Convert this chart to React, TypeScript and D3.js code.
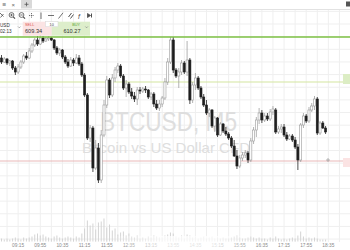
import React from "react";
import * as d3 from "d3";

// ---- data ----
const START_TIME = "08:45"; // first visible 5‑minute candle
const OPEN = [
  608.2, 607.8, 608.1, 607.7, 607.9, 607.2, 606.8, 607.3, 607.8, 608.4,
  608.2, 608.9, 609.5, 610.0, 609.6, 610.2, 609.9, 610.1, 610.2, 610.0,
  609.2, 608.7, 609.0, 608.3, 607.8, 607.4, 608.0, 607.7, 608.2, 607.6,
  606.5, 604.5, 600.2, 601.2, 597.2, 599.2, 596.0, 600.5, 603.5, 606.0,
  604.5, 606.2, 607.0, 607.4, 606.4, 605.2, 605.6, 604.8, 604.4, 604.1,
  605.0, 604.9, 605.1, 605.0, 604.3, 604.6, 603.6, 603.2, 603.6, 604.2,
  605.8, 607.8, 610.0, 607.0, 606.4, 606.8, 607.7, 606.8, 608.0, 604.0,
  605.5, 606.2, 605.2, 604.3, 603.5, 602.7, 603.0, 601.4, 602.2, 600.5,
  601.6, 600.9, 600.6, 600.2, 599.4, 598.4, 597.4, 598.2, 598.5, 598.7,
  598.0, 599.9, 601.0, 602.0, 602.7, 602.0, 602.4, 602.1, 602.8, 603.0,
  600.8, 601.1, 601.3, 600.5, 600.1, 600.4, 600.0, 599.3, 598.0, 601.5,
  602.4, 601.9, 603.0, 603.4, 604.1, 600.7, 601.7, 601.2,
];
const HIGH = [
  608.5, 608.3, 608.2, 608.0, 608.0, 607.4, 607.6, 608.0, 608.6, 608.8,
  609.2, 609.7, 610.2, 610.4, 610.5, 610.4, 610.3, 610.4, 610.3, 610.1,
  609.4, 609.2, 609.1, 608.5, 608.1, 608.3, 608.2, 608.6, 608.5, 607.8,
  606.7, 604.7, 601.5, 601.4, 600.0, 599.7, 601.0, 604.0, 606.4, 606.2,
  606.6, 607.3, 607.7, 607.6, 606.6, 606.0, 605.8, 605.2, 604.8, 605.3,
  605.3, 605.3, 605.4, 605.1, 604.8, 604.8, 604.0, 604.0, 604.4, 606.2,
  608.2, 610.3, 610.3, 607.2, 607.2, 608.0, 607.9, 609.9, 608.2, 605.8,
  606.7, 606.4, 605.4, 604.6, 604.0, 603.2, 603.1, 602.4, 602.3, 601.8,
  601.7, 601.3, 600.8, 600.4, 600.0, 599.0, 598.5, 598.8, 599.0, 598.9,
  600.2, 601.3, 602.3, 603.2, 603.0, 602.7, 602.7, 603.1, 603.4, 603.2,
  601.4, 601.6, 601.6, 600.8, 600.6, 600.6, 600.3, 599.6, 601.7, 602.7,
  602.6, 603.3, 603.7, 604.4, 604.3, 601.9, 601.9, 601.4,
];
const LOW = [
  607.6, 607.7, 607.5, 607.4, 607.0, 606.5, 606.6, 607.1, 607.6, 608.0,
  608.1, 608.7, 609.3, 609.4, 609.5, 609.7, 609.8, 609.9, 609.9, 609.0,
  608.5, 608.4, 608.1, 607.6, 607.2, 607.3, 607.4, 607.6, 607.4, 606.3,
  604.3, 600.0, 599.8, 596.8, 597.0, 595.7, 595.7, 600.3, 603.2, 604.2,
  604.3, 605.8, 606.7, 606.2, 605.0, 604.3, 604.6, 604.1, 603.8, 603.5,
  604.6, 604.7, 604.7, 604.1, 604.0, 603.3, 603.0, 602.9, 603.3, 604.0,
  605.5, 607.6, 606.7, 606.2, 605.2, 606.5, 606.6, 606.4, 603.6, 603.7,
  605.0, 605.0, 604.1, 603.3, 602.5, 602.3, 601.2, 600.8, 600.3, 600.4,
  600.7, 600.4, 600.0, 599.2, 598.3, 597.1, 597.2, 597.9, 598.2, 597.7,
  597.8, 599.6, 600.3, 601.6, 601.7, 601.8, 601.9, 601.9, 602.5, 600.6,
  600.6, 600.7, 600.3, 599.9, 600.0, 599.8, 599.1, 597.0, 597.8, 601.2,
  601.7, 601.7, 602.8, 603.0, 600.5, 600.5, 601.1, 600.6,
];
const CLOSE = [
  607.8, 608.1, 607.7, 607.9, 607.2, 606.8, 607.3, 607.8, 608.4, 608.2,
  608.9, 609.5, 610.0, 609.6, 610.2, 609.9, 610.1, 610.2, 610.0, 609.2,
  608.7, 609.0, 608.3, 607.8, 607.4, 608.0, 607.7, 608.2, 607.6, 606.5,
  604.5, 600.2, 601.2, 597.2, 599.2, 596.0, 600.5, 603.5, 606.0, 604.5,
  606.2, 607.0, 607.4, 606.4, 605.2, 605.6, 604.8, 604.4, 604.1, 605.0,
  604.9, 605.1, 605.0, 604.3, 604.6, 603.6, 603.2, 603.6, 604.2, 605.8,
  607.8, 610.0, 607.0, 606.4, 606.8, 607.7, 606.8, 608.0, 604.0, 605.5,
  606.2, 605.2, 604.3, 603.5, 602.7, 603.0, 601.4, 602.2, 600.5, 601.6,
  600.9, 600.6, 600.2, 599.4, 598.4, 597.4, 598.2, 598.5, 598.7, 598.0,
  599.9, 601.0, 602.0, 602.7, 602.0, 602.4, 602.1, 602.8, 603.1, 600.8,
  601.1, 601.3, 600.5, 600.1, 600.4, 600.0, 599.3, 598.0, 601.5, 602.4,
  601.9, 603.0, 603.4, 604.1, 600.7, 601.7, 601.2, 600.8,
];
const VOLUME = [
  3, 2, 3, 2, 3, 4, 3, 2, 4, 3,
  4, 5, 7, 8, 6, 7, 5, 4, 3, 5,
  6, 4, 3, 4, 5, 4, 3, 5, 4, 8,
  13, 21, 16, 18, 12, 19, 20, 23, 14, 17,
  11, 13, 7, 9, 10, 6, 8, 5, 4, 6,
  3, 4, 3, 5, 4, 6, 5, 4, 4, 6,
  7, 9, 8, 5, 4, 6, 3, 7, 6, 4,
  5, 3, 4, 5, 3, 4, 5, 3, 4, 3,
  4, 3, 3, 4, 5, 6, 4, 3, 3, 4,
  5, 4, 3, 4, 3, 3, 2, 4, 3, 5,
  3, 2, 3, 2, 3, 4, 3, 6, 10, 5,
  3, 4, 3, 4, 3, 2, 2, 2,
];
const TIME_LABELS = [
  "09:15", "09:55", "10:35", "11:15", "11:55", "12:35", "13:15", "13:55",
  "14:35", "15:15", "15:55", "16:35", "17:15", "17:55", "18:35",
];
const LEVEL_GREEN = 610.3;
const LEVEL_YELLOW = 605.8;
const LEVEL_PINK = 597.9;
const SYMBOL_TITLE = "BTCUSD, M5";
const SYMBOL_DESC = "Bitcoin vs US Dollar CFD";
const SELL_PRICE = "609.34";
const BUY_PRICE = "610.27";
const LOT = "10";
const SYMBOL_CUT = "USD";
const CLOCK = "02:13";

const W = 350;
const H = 250;
const FONT = "'Liberation Sans', Arial, sans-serif";

export default function App() {
  const parse = d3.timeParse("%H:%M");
  const t0 = parse(START_TIME) as Date;
  const n = Math.min(OPEN.length, HIGH.length, LOW.length, CLOSE.length);
  const times = d3.range(n).map((i) => d3.timeMinute.offset(t0, 5 * i));

  const x = d3
    .scaleTime()
    .domain([times[0], times[n - 1]])
    .range([1.5, 1.5 + 2.77 * (n - 1)]);
  const y = d3.scaleLinear().domain([595, 614]).range([190, 0]);
  const v = d3.scaleLinear().domain([0, 25]).range([241.5, 216.5]);

  const labelTimes = TIME_LABELS.map((s) => parse(s) as Date);
  const gridTimes: Date[] = [];
  for (let k = -2; k < 40; k++) {
    const t = d3.timeMinute.offset(labelTimes[0], 20 * k);
    const px = x(t);
    if (px >= 0 && px <= W) gridTimes.push(t);
  }
  const gridPrices = d3.range(611.6 + 1.265 * 2, 589, -1.265);

  const ink = "#4d4d4d";

  return (
    <svg
      width={W}
      height={H}
      viewBox={`0 0 ${W} ${H}`}
      style={{ position: "absolute", left: 0, top: 0, background: "#fff" }}
      fontFamily={FONT}
    >
      <defs>
        <linearGradient id="fade" x1="0" x2="1" y1="0" y2="0">
          <stop offset="0" stopColor="#fff" stopOpacity="0" />
          <stop offset="0.35" stopColor="#fff" stopOpacity="0.75" />
          <stop offset="0.7" stopColor="#fff" stopOpacity="0.75" />
          <stop offset="1" stopColor="#fff" stopOpacity="0" />
        </linearGradient>
      </defs>
      <rect x={0} y={0} width={W} height={H} fill="#fff" />

      {/* grid */}
      {gridTimes.map((t, i) => (
        <line key={"gv" + i} x1={x(t)} x2={x(t)} y1={9.5} y2={242} stroke="#efefef" strokeWidth={1} />
      ))}
      {gridPrices.map((p, i) => (
        <line key={"gh" + i} x1={0} x2={W} y1={y(p)} y2={y(p)} stroke="#efefef" strokeWidth={1} />
      ))}

      {/* watermark */}
      <text x={100} y={131} fontSize={27} fill="#dedede" textLength={137} lengthAdjust="spacingAndGlyphs">
        {SYMBOL_TITLE}
      </text>
      <text x={82} y={153} fontSize={14.5} fill="#dedede" textLength={168} lengthAdjust="spacingAndGlyphs">
        {SYMBOL_DESC}
      </text>

      {/* volume */}
      {VOLUME.slice(0, n).map((vol, i) => (
        <line key={"v" + i} x1={x(times[i])} x2={x(times[i])} y1={v(0)} y2={v(vol)} stroke="#cfcfcf" strokeWidth={0.9} />
      ))}

      {/* level lines */}
      <line x1={0} x2={W} y1={y(LEVEL_YELLOW)} y2={y(LEVEL_YELLOW)} stroke="#d3e5a0" strokeWidth={1.1} />
      <line x1={0} x2={W} y1={y(LEVEL_PINK)} y2={y(LEVEL_PINK)} stroke="#e9b8b8" strokeWidth={1} />

      {/* candles */}
      {d3.range(n).map((i) => {
        const o = OPEN[i], c = CLOSE[i], hi = HIGH[i], lo = LOW[i];
        const cx = x(times[i]);
        const up = c >= o;
        const yTop = y(Math.max(o, c));
        const yBot = y(Math.min(o, c));
        const bh = Math.max(0.8, yBot - yTop);
        return (
          <g key={"c" + i}>
            <line x1={cx} x2={cx} y1={y(hi)} y2={y(lo)} stroke={up ? "#a0a0a0" : "#222"} strokeWidth={0.8} />
            <rect
              x={cx - 1.05}
              y={yTop}
              width={2.1}
              height={bh}
              fill={up ? "#fff" : "#1e1e1e"}
              stroke={up ? "#9a9a9a" : "#1e1e1e"}
              strokeWidth={0.6}
            />
          </g>
        );
      })}

      {/* green level */}
      <line x1={0} x2={W} y1={y(LEVEL_GREEN)} y2={y(LEVEL_GREEN)} stroke="#7cc043" strokeWidth={1.5} />

      {/* right price axis boxes */}
      <rect x={343} y={y(LEVEL_YELLOW) - 8} width={7} height={10} fill="#dcedc4" />
      <rect x={343} y={y(LEVEL_PINK) - 3} width={7} height={9} fill="#fbe3e3" />

      {/* cursor cross */}
      <line x1={326} x2={330} y1={160} y2={160} stroke="#999" strokeWidth={0.7} />
      <line x1={328} x2={328} y1={158} y2={162} stroke="#999" strokeWidth={0.7} />

      {/* time axis */}
      {labelTimes.map((t, i) => (
        <text key={"tl" + i} x={x(t)} y={247} fontSize={4.8} fill="#8a8a8a" textAnchor="middle">
          {TIME_LABELS[i]}
        </text>
      ))}
      <rect x={110} y={236} width={150} height={14} fill="url(#fade)" />

      {/* tab bar */}
      <rect x={0} y={0} width={W} height={9} fill="#fff" />
      <line x1={0} x2={W} y1={9.5} y2={9.5} stroke="#e2e2e2" strokeWidth={1} />
      <text x={2.5} y={6.6} fontSize={6.5} fill="#666">≡</text>
      <text x={11.5} y={6.5} fontSize={6} fill="#666">×</text>
      <rect x={21} y={0} width={11} height={8.5} fill="#d9d9d9" />
      <line x1={24.5} x2={28.5} y1={4.3} y2={4.3} stroke="#555" strokeWidth={0.8} />
      <line x1={26.5} x2={26.5} y1={2.3} y2={6.3} stroke="#555" strokeWidth={0.8} />
      <rect x={346} y={1.5} width={4} height={5} fill="#555" />

      {/* toolbar icons */}
      <g stroke={ink} strokeWidth={0.8} fill="none">
        <path d="M0,13 L3.5,16.5 M0.5,17.5 L3.5,14" />
        <circle cx={11.5} cy={15} r={2.4} />
        <line x1={13.3} y1={16.8} x2={15} y2={18.6} strokeWidth={1.2} />
        <line x1={10.3} y1={15} x2={12.7} y2={15} />
        <line x1={11.5} y1={13.8} x2={11.5} y2={16.2} />
        <circle cx={21.5} cy={15} r={2.4} />
        <line x1={23.3} y1={16.8} x2={25} y2={18.6} strokeWidth={1.2} />
        <line x1={20.3} y1={15} x2={22.7} y2={15} />
        <line x1={29} y1={15.5} x2={34} y2={15.5} strokeDasharray="1 0.8" />
        <line x1={31.5} y1={13} x2={31.5} y2={18} strokeDasharray="1 0.8" />
        <line x1={41} y1={12.5} x2={41} y2={19} />
        <line x1={48} y1={15.5} x2={54} y2={15.5} />
        <line x1={58.5} y1={18.5} x2={63} y2={12.8} />
        <path d="M68.5,17 L71.5,13 M70.5,18.5 L73.5,14.5" strokeWidth={1} />
        <path d="M87.5,13.5 L90.5,15.5 L87.5,17.5 Z" fill={ink} />
        <line x1={91.5} y1={13.5} x2={91.5} y2={17.5} strokeWidth={1} />
      </g>
      <text x={78} y={18.5} fontSize={7} fontStyle="italic" fill={ink}>f</text>

      {/* trading panel */}
      <text x={0} y={27} fontSize={4.6} fill="#333">{SYMBOL_CUT}</text>
      <text x={0} y={33} fontSize={4.6} fill="#333">{CLOCK}</text>
      <path d="M18,26.5 L19.3,27.8 L20.6,26.5" stroke="#777" strokeWidth={0.6} fill="none" />
      <rect x={22.7} y={21.7} width={29} height={14} fill="#fbe3e3" />
      <rect x={51.7} y={21.7} width={38.3} height={14} fill="#ddeecb" />
      <text x={25} y={26} fontSize={3.8} fill="#e0524f">SELL</text>
      <text x={25} y={33.3} fontSize={5.6} fill="#333">{SELL_PRICE}</text>
      <text x={80} y={26} fontSize={3.8} fill="#5a9f2f" textAnchor="end">BUY</text>
      <text x={80.5} y={33.3} fontSize={5.6} fill="#333" textAnchor="end">{BUY_PRICE}</text>
      <path d="M85.3,26.5 L86.6,27.8 L87.9,26.5" stroke="#777" strokeWidth={0.6} fill="none" />
      <rect x={45.5} y={21.7} width={12.5} height={5} fill="#fff" stroke="#d6d6d6" strokeWidth={0.5} />
      <text x={51.7} y={25.6} fontSize={3.8} fill="#444" textAnchor="middle">{LOT}</text>
    </svg>
  );
}
